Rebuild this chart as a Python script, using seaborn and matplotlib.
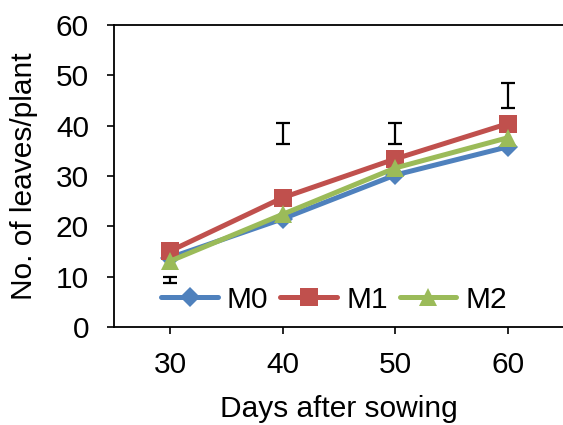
import matplotlib
matplotlib.use("Agg")
import matplotlib.pyplot as plt
import seaborn as sns

days = ["30", "40", "50", "60"]
series_names = ["M0", "M1", "M2"]
m0 = [13.8, 21.5, 30.2, 35.8]
m1 = [15.1, 25.7, 33.4, 40.4]
m2 = [13.1, 22.4, 31.6, 37.6]
lsd_center = [9.4, 38.4, 38.4, 46.0]
lsd_half = [0.6, 2.05, 2.05, 2.55]

colors = ["#4F81BD", "#C0504D", "#9BBB59"]
markers = ["D", "s", "^"]
msizes = [10.5, 12.5, 13.0]

sns.set_style("white")
plt.rcParams["font.family"] = ["Liberation Sans", "DejaVu Sans"]
plt.rcParams["text.color"] = "black"
plt.rcParams["axes.labelcolor"] = "black"
plt.rcParams["xtick.color"] = "black"
plt.rcParams["ytick.color"] = "black"
FS = 21.5

fig = plt.figure(figsize=(5.63, 4.25), dpi=100)
ax = fig.add_axes([0.2025, 0.2306, 0.7995, 0.7106])

for name, vals, c, mk, ms in zip(series_names, [m0, m1, m2], colors, markers, msizes):
    sns.lineplot(x=days, y=vals, color=c, marker=mk, markersize=ms,
                 markeredgewidth=0, linewidth=3.6, label=name, ax=ax,
                 sort=False, solid_capstyle="round")

ax.errorbar(days, lsd_center, yerr=lsd_half, fmt="none", ecolor="black",
            elinewidth=1.6, capsize=5.2, capthick=1.6)

ax.set_xlim(-0.5, 3.5)
ax.set_ylim(0, 60)
ax.set_yticks([0, 10, 20, 30, 40, 50, 60])

for s in ax.spines.values():
    s.set_visible(True)
    s.set_color("black")
    s.set_linewidth(1.3)

ax.tick_params(axis="both", direction="out", length=5, width=1.2,
               colors="black", labelcolor="black", labelsize=FS)
ax.tick_params(axis="y", pad=13, left=True)
ax.tick_params(axis="x", pad=12.5, bottom=True)

ax.set_xlabel("Days after sowing", fontsize=FS, labelpad=11, color="black")
ax.set_ylabel("No. of leaves/plant", fontsize=FS, labelpad=13, color="black")

ax.legend(loc="center left", bbox_to_anchor=(0.105, 0.09), ncol=3,
          frameon=False, fontsize=FS, handlelength=1.9,
          handletextpad=0.3, columnspacing=0.4, borderpad=0,
          borderaxespad=0)

fig.savefig("out.png", dpi=100)
